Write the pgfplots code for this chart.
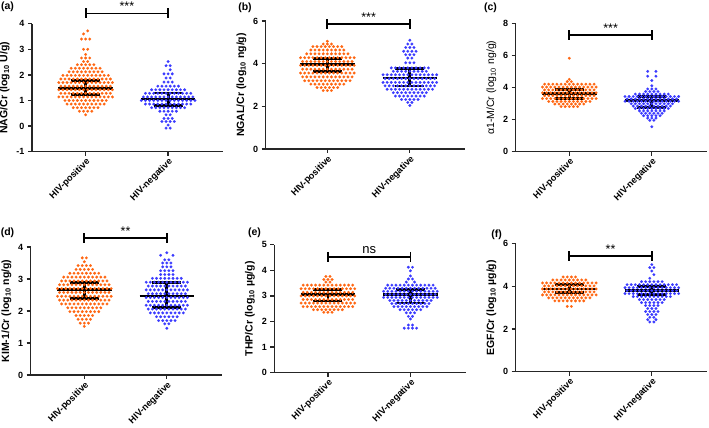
\documentclass[border=0pt]{standalone}
\usepackage{fontspec}
\setmainfont{Liberation Sans}
\usepackage{pgfplots}
\pgfplotsset{compat=1.18}
\definecolor{orng}{RGB}{255,102,17}
\definecolor{blu}{RGB}{58,58,255}
% categories sit at x=0 (HIV-positive) and x=40 (HIV-negative); one swarm step = 2 units
\pgfplotsset{
  swarm/.style={
    scale only axis, width=191.2pt, height=128pt,
    xmin=-26, xmax=66.7,
    axis lines=left, axis line style={-, line width=1.3pt, black!85},
    xtick={0,40}, xticklabels={HIV-positive,HIV-negative},
    tick align=outside, major tick length=4pt,
    tick style={line width=1.3pt, black!85},
    xticklabel style={rotate=45, anchor=north east, inner sep=1pt, font=\bfseries\fontsize{9.2}{10}\selectfont},
    yticklabel style={font=\bfseries\fontsize{9}{10}\selectfont},
    ylabel style={font=\bfseries\fontsize{10.5}{12}\selectfont},
    /pgf/number format/assume math mode=true,
    clip=false,
  },
  orpt/.style={only marks, color=orng, mark=*, mark size=1.4pt, mark options={solid, fill=orng, draw=orng, line width=0.1pt}},
  blpt/.style={only marks, color=blu, mark=*, mark size=1.4pt, mark options={solid, fill=blu, draw=blu, line width=0.1pt}},
  st/.style={black, line width=2.8pt, unbounded coords=jump, mark=none},
  br/.style={black, line width=1.8pt, mark=|, mark size=5pt, mark options={solid, line width=1.8pt}},
}
\newcommand{\sig}{\fontsize{12.5}{13}\selectfont}
\begin{document}
\begin{tikzpicture}
\useasboundingbox (0,0) rectangle (709pt,428pt);

% ---------------- (a) NAG
\begin{axis}[swarm, at={(32pt,276.3pt)}, anchor=south west, ymin=-1, ymax=4, ytick={-1,0,1,2,3,4},
  ylabel={NAG/Cr (log\textsubscript{10} U/g)}]
\addplot[orpt] coordinates {
(1,3.72)(-1,3.6)(-2,3.4)(0,3.4)(2,3.4)(-1,3)(1,3)(0,2.8)(-2,2.66)(0,2.66)(2,2.66)(-1,2.52)(1,2.52)
(-4,2.4)(-2,2.4)(0,2.4)(2,2.4)(4,2.4)
(-7,2.26)(-5,2.26)(-3,2.26)(-1,2.26)(1,2.26)(3,2.26)(5,2.26)(7,2.26)
(-8,2.12)(-6,2.12)(-4,2.12)(-2,2.12)(0,2.12)(2,2.12)(4,2.12)(6,2.12)(8,2.12)
(-11,1.98)(-9,1.98)(-7,1.98)(-5,1.98)(-3,1.98)(-1,1.98)(1,1.98)(3,1.98)(5,1.98)(7,1.98)(9,1.98)(11,1.98)
(-12,1.84)(-10,1.84)(-8,1.84)(-6,1.84)(-4,1.84)(-2,1.84)(0,1.84)(2,1.84)(4,1.84)(6,1.84)(8,1.84)(10,1.84)(12,1.84)
(-13,1.7)(-11,1.7)(-9,1.7)(-7,1.7)(-5,1.7)(-3,1.7)(-1,1.7)(1,1.7)(3,1.7)(5,1.7)(7,1.7)(9,1.7)(11,1.7)(13,1.7)
(-12,1.56)(-10,1.56)(-8,1.56)(-6,1.56)(-4,1.56)(-2,1.56)(0,1.56)(2,1.56)(4,1.56)(6,1.56)(8,1.56)(10,1.56)(12,1.56)
(-13,1.42)(-11,1.42)(-9,1.42)(-7,1.42)(-5,1.42)(-3,1.42)(-1,1.42)(1,1.42)(3,1.42)(5,1.42)(7,1.42)(9,1.42)(11,1.42)(13,1.42)
(-12,1.28)(-10,1.28)(-8,1.28)(-6,1.28)(-4,1.28)(-2,1.28)(0,1.28)(2,1.28)(4,1.28)(6,1.28)(8,1.28)(10,1.28)(12,1.28)
(-13,1.14)(-11,1.14)(-9,1.14)(-7,1.14)(-5,1.14)(-3,1.14)(-1,1.14)(1,1.14)(3,1.14)(5,1.14)(7,1.14)(9,1.14)(11,1.14)(13,1.14)
(-10,1)(-8,1)(-6,1)(-4,1)(-2,1)(0,1)(2,1)(4,1)(6,1)(8,1)(10,1)
(-9,0.86)(-7,0.86)(-5,0.86)(-3,0.86)(-1,0.86)(1,0.86)(3,0.86)(5,0.86)(7,0.86)(9,0.86)
(-6,0.72)(-4,0.72)(-2,0.72)(0,0.72)(2,0.72)(4,0.72)(6,0.72)
(-3,0.58)(-1,0.58)(1,0.58)(3,0.58)(0,0.44)};
\addplot[blpt] coordinates {
(40,2.52)(39,2.36)(41,2.36)(41,2.2)(38,2.04)(40,2.04)(42,2.04)(39,1.88)(41,1.88)(38,1.72)(40,1.72)(42,1.72)
(35,1.56)(37,1.56)(39,1.56)(41,1.56)(43,1.56)(45,1.56)
(32,1.42)(34,1.42)(36,1.42)(38,1.42)(40,1.42)(42,1.42)(44,1.42)(46,1.42)(48,1.42)
(29,1.28)(31,1.28)(33,1.28)(35,1.28)(37,1.28)(39,1.28)(41,1.28)(43,1.28)(45,1.28)(47,1.28)(49,1.28)(51,1.28)
(28,1.14)(30,1.14)(32,1.14)(34,1.14)(36,1.14)(38,1.14)(40,1.14)(42,1.14)(44,1.14)(46,1.14)(48,1.14)(50,1.14)(52,1.14)
(27,1)(29,1)(31,1)(33,1)(35,1)(37,1)(39,1)(41,1)(43,1)(45,1)(47,1)(49,1)(51,1)(53,1)
(29,0.86)(31,0.86)(33,0.86)(35,0.86)(37,0.86)(39,0.86)(41,0.86)(43,0.86)(45,0.86)(47,0.86)(49,0.86)(51,0.86)
(32,0.72)(34,0.72)(36,0.72)(38,0.72)(40,0.72)(42,0.72)(44,0.72)(46,0.72)(48,0.72)
(36,0.58)(38,0.58)(40,0.58)(42,0.58)(44,0.58)(39,0.44)(41,0.44)(38,0.3)(40,0.3)(42,0.3)
(37,0.18)(39,0.18)(41,0.18)(43,0.18)(40,0.04)(39,-0.08)(41,-0.08)};
\addplot[st] coordinates {(-13.2,1.46)(13.2,1.46)(0,nan)(-7,1.22)(7,1.22)(0,nan)(-7,1.78)(7,1.78)(0,nan)(0,1.22)(0,1.78)};
\addplot[st] coordinates {(26.8,1.06)(53.2,1.06)(40,nan)(33,0.81)(47,0.81)(40,nan)(33,1.29)(47,1.29)(40,nan)(40,0.81)(40,1.29)};
\addplot[br] coordinates {(0,4.4)(40,4.4)};
\node[anchor=base, font=\sig, yshift=2.5pt] at (axis cs:20,4.4) {***};
\end{axis}

% ---------------- (b) NGAL
\begin{axis}[swarm, at={(265.7pt,279pt)}, anchor=south west, xmin=-29.9, width=199.2pt,
  ymin=0, ymax=6, ytick={0,2,4,6}, ylabel={NGAL/Cr (log\textsubscript{10} ng/g)}]
\addplot[orpt] coordinates {
(0,5.05)(-2,4.92)(0,4.92)(2,4.92)
(-7,4.8)(-5,4.8)(-3,4.8)(-1,4.8)(1,4.8)(3,4.8)(5,4.8)(7,4.8)
(-8,4.64)(-6,4.64)(-4,4.64)(-2,4.64)(0,4.64)(2,4.64)(4,4.64)(6,4.64)(8,4.64)
(-10,4.46)(-8,4.46)(-6,4.46)(-4,4.46)(-2,4.46)(0,4.46)(2,4.46)(4,4.46)(6,4.46)(8,4.46)(10,4.46)
(-13,4.28)(-11,4.28)(-9,4.28)(-7,4.28)(-5,4.28)(-3,4.28)(-1,4.28)(1,4.28)(3,4.28)(5,4.28)(7,4.28)(9,4.28)(11,4.28)(13,4.28)
(-12,4.1)(-10,4.1)(-8,4.1)(-6,4.1)(-4,4.1)(-2,4.1)(0,4.1)(2,4.1)(4,4.1)(6,4.1)(8,4.1)(10,4.1)(12,4.1)
(-13,3.92)(-11,3.92)(-9,3.92)(-7,3.92)(-5,3.92)(-3,3.92)(-1,3.92)(1,3.92)(3,3.92)(5,3.92)(7,3.92)(9,3.92)(11,3.92)(13,3.92)
(-12,3.74)(-10,3.74)(-8,3.74)(-6,3.74)(-4,3.74)(-2,3.74)(0,3.74)(2,3.74)(4,3.74)(6,3.74)(8,3.74)(10,3.74)(12,3.74)
(-13,3.56)(-11,3.56)(-9,3.56)(-7,3.56)(-5,3.56)(-3,3.56)(-1,3.56)(1,3.56)(3,3.56)(5,3.56)(7,3.56)(9,3.56)(11,3.56)(13,3.56)
(-12,3.38)(-10,3.38)(-8,3.38)(-6,3.38)(-4,3.38)(-2,3.38)(0,3.38)(2,3.38)(4,3.38)(6,3.38)(8,3.38)(10,3.38)(12,3.38)
(-11,3.2)(-9,3.2)(-7,3.2)(-5,3.2)(-3,3.2)(-1,3.2)(1,3.2)(3,3.2)(5,3.2)(7,3.2)(9,3.2)(11,3.2)
(-8,3.04)(-6,3.04)(-4,3.04)(-2,3.04)(0,3.04)(2,3.04)(4,3.04)(6,3.04)(8,3.04)
(-5,2.88)(-3,2.88)(-1,2.88)(1,2.88)(3,2.88)(5,2.88)(-2,2.74)(0,2.74)(2,2.74)};
\addplot[blpt] coordinates {
(40,5.1)(39,4.92)(41,4.92)(38,4.76)(40,4.76)(42,4.76)(37,4.58)(39,4.58)(41,4.58)(43,4.58)
(38,4.42)(40,4.42)(42,4.42)(39,4.26)(41,4.26)(38,4.04)(40,4.04)(42,4.04)
(31,3.8)(33,3.8)(35,3.8)(37,3.8)(39,3.8)(41,3.8)(43,3.8)(45,3.8)(47,3.8)(49,3.8)
(32,3.64)(34,3.64)(36,3.64)(38,3.64)(40,3.64)(42,3.64)(44,3.64)(46,3.64)(48,3.64)
(27,3.48)(29,3.48)(31,3.48)(33,3.48)(35,3.48)(37,3.48)(39,3.48)(41,3.48)(43,3.48)(45,3.48)(47,3.48)(49,3.48)(51,3.48)(53,3.48)
(28,3.3)(30,3.3)(32,3.3)(34,3.3)(36,3.3)(38,3.3)(40,3.3)(42,3.3)(44,3.3)(46,3.3)(48,3.3)(50,3.3)(52,3.3)
(27,3.12)(29,3.12)(31,3.12)(33,3.12)(35,3.12)(37,3.12)(39,3.12)(41,3.12)(43,3.12)(45,3.12)(47,3.12)(49,3.12)(51,3.12)(53,3.12)
(28,2.96)(30,2.96)(32,2.96)(34,2.96)(36,2.96)(38,2.96)(40,2.96)(42,2.96)(44,2.96)(46,2.96)(48,2.96)(50,2.96)(52,2.96)
(29,2.8)(31,2.8)(33,2.8)(35,2.8)(37,2.8)(39,2.8)(41,2.8)(43,2.8)(45,2.8)(47,2.8)(49,2.8)(51,2.8)
(32,2.64)(34,2.64)(36,2.64)(38,2.64)(40,2.64)(42,2.64)(44,2.64)(46,2.64)(48,2.64)
(33,2.48)(35,2.48)(37,2.48)(39,2.48)(41,2.48)(43,2.48)(45,2.48)(47,2.48)
(36,2.32)(38,2.32)(40,2.32)(42,2.32)(44,2.32)(39,2.18)(41,2.18)(40,2.04)};
\addplot[st] coordinates {(-13.2,3.95)(13.2,3.95)(0,nan)(-7,3.63)(7,3.63)(0,nan)(-7,4.24)(7,4.24)(0,nan)(0,3.63)(0,4.24)};
\addplot[st] coordinates {(26.8,3.33)(53.2,3.33)(40,nan)(33,2.95)(47,2.95)(40,nan)(33,3.77)(47,3.77)(40,nan)(40,2.95)(40,3.77)};
\addplot[br] coordinates {(0,5.85)(40,5.85)};
\node[anchor=base, font=\sig, yshift=2.5pt] at (axis cs:20,5.85) {***};
\end{axis}

% ---------------- (c) alpha1-M
\begin{axis}[swarm, at={(515.7pt,276.3pt)}, anchor=south west, ymin=0, ymax=8, ytick={0,2,4,6,8},
  ylabel={α1-M/Cr (log\textsubscript{10} ng/g)}, ylabel style={font=\fontsize{10.5}{12}\selectfont}]
\addplot[orpt] coordinates {
(0,5.84)(0,4.52)(-1,4.38)(1,4.38)
(-12,4.22)(-10,4.22)(-8,4.22)(-6,4.22)(-4,4.22)(-2,4.22)(0,4.22)(2,4.22)(4,4.22)(6,4.22)(8,4.22)(10,4.22)(12,4.22)
(-13,4.04)(-11,4.04)(-9,4.04)(-7,4.04)(-5,4.04)(-3,4.04)(-1,4.04)(1,4.04)(3,4.04)(5,4.04)(7,4.04)(9,4.04)(11,4.04)(13,4.04)
(-12,3.86)(-10,3.86)(-8,3.86)(-6,3.86)(-4,3.86)(-2,3.86)(0,3.86)(2,3.86)(4,3.86)(6,3.86)(8,3.86)(10,3.86)(12,3.86)
(-13,3.68)(-11,3.68)(-9,3.68)(-7,3.68)(-5,3.68)(-3,3.68)(-1,3.68)(1,3.68)(3,3.68)(5,3.68)(7,3.68)(9,3.68)(11,3.68)(13,3.68)
(-12,3.5)(-10,3.5)(-8,3.5)(-6,3.5)(-4,3.5)(-2,3.5)(0,3.5)(2,3.5)(4,3.5)(6,3.5)(8,3.5)(10,3.5)(12,3.5)
(-13,3.32)(-11,3.32)(-9,3.32)(-7,3.32)(-5,3.32)(-3,3.32)(-1,3.32)(1,3.32)(3,3.32)(5,3.32)(7,3.32)(9,3.32)(11,3.32)(13,3.32)
(-10,3.14)(-8,3.14)(-6,3.14)(-4,3.14)(-2,3.14)(0,3.14)(2,3.14)(4,3.14)(6,3.14)(8,3.14)(10,3.14)
(-7,2.98)(-5,2.98)(-3,2.98)(-1,2.98)(1,2.98)(3,2.98)(5,2.98)(7,2.98)
(-4,2.82)(-2,2.82)(0,2.82)(2,2.82)(4,2.82)};
\addplot[blpt] coordinates {
(38,5.02)(42,5.02)(38,4.72)(42,4.72)(40,4.45)(40,4.12)(38,3.92)(40,3.92)(42,3.92)(37,3.76)(39,3.76)(41,3.76)(43,3.76)
(32,3.6)(34,3.6)(36,3.6)(38,3.6)(40,3.6)(42,3.6)(44,3.6)(46,3.6)(48,3.6)
(27,3.45)(29,3.45)(31,3.45)(33,3.45)(35,3.45)(37,3.45)(39,3.45)(41,3.45)(43,3.45)(45,3.45)(47,3.45)(49,3.45)(51,3.45)(53,3.45)
(28,3.3)(30,3.3)(32,3.3)(34,3.3)(36,3.3)(38,3.3)(40,3.3)(42,3.3)(44,3.3)(46,3.3)(48,3.3)(50,3.3)(52,3.3)
(27,3.15)(29,3.15)(31,3.15)(33,3.15)(35,3.15)(37,3.15)(39,3.15)(41,3.15)(43,3.15)(45,3.15)(47,3.15)(49,3.15)(51,3.15)(53,3.15)
(30,3)(32,3)(34,3)(36,3)(38,3)(40,3)(42,3)(44,3)(46,3)(48,3)(50,3)
(31,2.85)(33,2.85)(35,2.85)(37,2.85)(39,2.85)(41,2.85)(43,2.85)(45,2.85)(47,2.85)(49,2.85)
(32,2.7)(34,2.7)(36,2.7)(38,2.7)(40,2.7)(42,2.7)(44,2.7)(46,2.7)(48,2.7)
(34,2.55)(36,2.55)(38,2.55)(40,2.55)(42,2.55)(44,2.55)(46,2.55)
(35,2.4)(37,2.4)(39,2.4)(41,2.4)(43,2.4)(45,2.4)
(36,2.25)(38,2.25)(40,2.25)(42,2.25)(44,2.25)(38,2.1)(40,2.1)(42,2.1)(39,1.96)(41,1.96)(40,1.56)};
\addplot[st] coordinates {(-13.2,3.62)(13.2,3.62)(0,nan)(-7,3.35)(7,3.35)(0,nan)(-7,3.88)(7,3.88)(0,nan)(0,3.35)(0,3.88)};
\addplot[st] coordinates {(26.8,3.18)(53.2,3.18)(40,nan)(33,2.77)(47,2.77)(40,nan)(33,3.45)(47,3.45)(40,nan)(40,2.77)(40,3.45)};
\addplot[br] coordinates {(0,7.27)(40,7.27)};
\node[anchor=base, font=\sig, yshift=2.5pt] at (axis cs:20,7.27) {***};
\end{axis}

% ---------------- (d) KIM-1
\begin{axis}[swarm, at={(30.7pt,53pt)}, anchor=south west, ymin=0, ymax=4, ytick={0,1,2,3,4},
  ylabel={KIM-1/Cr (log\textsubscript{10} ng/g)}]
\addplot[orpt] coordinates {
(-1,3.66)(1,3.66)(0,3.54)(-3,3.42)(-1,3.42)(1,3.42)(3,3.42)(-4,3.3)(-2,3.3)(0,3.3)(2,3.3)(4,3.3)
(-7,3.18)(-5,3.18)(-3,3.18)(-1,3.18)(1,3.18)(3,3.18)(5,3.18)(7,3.18)
(-10,3.06)(-8,3.06)(-6,3.06)(-4,3.06)(-2,3.06)(0,3.06)(2,3.06)(4,3.06)(6,3.06)(8,3.06)(10,3.06)
(-11,2.94)(-9,2.94)(-7,2.94)(-5,2.94)(-3,2.94)(-1,2.94)(1,2.94)(3,2.94)(5,2.94)(7,2.94)(9,2.94)(11,2.94)
(-12,2.82)(-10,2.82)(-8,2.82)(-6,2.82)(-4,2.82)(-2,2.82)(0,2.82)(2,2.82)(4,2.82)(6,2.82)(8,2.82)(10,2.82)(12,2.82)
(-13,2.7)(-11,2.7)(-9,2.7)(-7,2.7)(-5,2.7)(-3,2.7)(-1,2.7)(1,2.7)(3,2.7)(5,2.7)(7,2.7)(9,2.7)(11,2.7)(13,2.7)
(-12,2.58)(-10,2.58)(-8,2.58)(-6,2.58)(-4,2.58)(-2,2.58)(0,2.58)(2,2.58)(4,2.58)(6,2.58)(8,2.58)(10,2.58)(12,2.58)
(-13,2.46)(-11,2.46)(-9,2.46)(-7,2.46)(-5,2.46)(-3,2.46)(-1,2.46)(1,2.46)(3,2.46)(5,2.46)(7,2.46)(9,2.46)(11,2.46)(13,2.46)
(-12,2.34)(-10,2.34)(-8,2.34)(-6,2.34)(-4,2.34)(-2,2.34)(0,2.34)(2,2.34)(4,2.34)(6,2.34)(8,2.34)(10,2.34)(12,2.34)
(-11,2.22)(-9,2.22)(-7,2.22)(-5,2.22)(-3,2.22)(-1,2.22)(1,2.22)(3,2.22)(5,2.22)(7,2.22)(9,2.22)(11,2.22)
(-8,2.1)(-6,2.1)(-4,2.1)(-2,2.1)(0,2.1)(2,2.1)(4,2.1)(6,2.1)(8,2.1)
(-7,1.98)(-5,1.98)(-3,1.98)(-1,1.98)(1,1.98)(3,1.98)(5,1.98)(7,1.98)
(-4,1.86)(-2,1.86)(0,1.86)(2,1.86)(4,1.86)(-3,1.74)(-1,1.74)(1,1.74)(3,1.74)(-2,1.62)(0,1.62)(2,1.62)(0,1.52)};
\addplot[blpt] coordinates {
(40,3.82)(37,3.74)(43,3.74)(39,3.6)(41,3.6)(38,3.5)(40,3.5)(42,3.5)(38,3.38)(40,3.38)(42,3.38)
(37,3.26)(39,3.26)(41,3.26)(43,3.26)(37,3.14)(39,3.14)(41,3.14)(43,3.14)
(33,3.02)(35,3.02)(37,3.02)(39,3.02)(41,3.02)(43,3.02)(45,3.02)(47,3.02)
(30,2.9)(32,2.9)(34,2.9)(36,2.9)(38,2.9)(40,2.9)(42,2.9)(44,2.9)(46,2.9)(48,2.9)(50,2.9)
(31,2.78)(33,2.78)(35,2.78)(37,2.78)(39,2.78)(41,2.78)(43,2.78)(45,2.78)(47,2.78)(49,2.78)
(30,2.66)(32,2.66)(34,2.66)(36,2.66)(38,2.66)(40,2.66)(42,2.66)(44,2.66)(46,2.66)(48,2.66)(50,2.66)
(31,2.54)(33,2.54)(35,2.54)(37,2.54)(39,2.54)(41,2.54)(43,2.54)(45,2.54)(47,2.54)(49,2.54)
(30,2.42)(32,2.42)(34,2.42)(36,2.42)(38,2.42)(40,2.42)(42,2.42)(44,2.42)(46,2.42)(48,2.42)(50,2.42)
(31,2.3)(33,2.3)(35,2.3)(37,2.3)(39,2.3)(41,2.3)(43,2.3)(45,2.3)(47,2.3)(49,2.3)
(30,2.18)(32,2.18)(34,2.18)(36,2.18)(38,2.18)(40,2.18)(42,2.18)(44,2.18)(46,2.18)(48,2.18)(50,2.18)
(31,2.06)(33,2.06)(35,2.06)(37,2.06)(39,2.06)(41,2.06)(43,2.06)(45,2.06)(47,2.06)(49,2.06)
(32,1.94)(34,1.94)(36,1.94)(38,1.94)(40,1.94)(42,1.94)(44,1.94)(46,1.94)(48,1.94)
(35,1.82)(37,1.82)(39,1.82)(41,1.82)(43,1.82)(45,1.82)(36,1.7)(38,1.7)(40,1.7)(42,1.7)(44,1.7)
(39,1.6)(41,1.6)(40,1.46)};
\addplot[st] coordinates {(-13.2,2.68)(13.2,2.68)(0,nan)(-7,2.38)(7,2.38)(0,nan)(-7,2.88)(7,2.88)(0,nan)(0,2.38)(0,2.88)};
\addplot[st] coordinates {(26.8,2.47)(53.2,2.47)(40,nan)(33,2.12)(47,2.12)(40,nan)(33,2.89)(47,2.89)(40,nan)(40,2.12)(40,2.89)};
\addplot[br] coordinates {(0,4.28)(40,4.28)};
\node[anchor=base, font=\sig, yshift=2.5pt] at (axis cs:20,4.28) {**};
\end{axis}

% ---------------- (e) THP
\begin{axis}[swarm, at={(274.3pt,55.3pt)}, anchor=south west, ymin=0, ymax=5, ytick={0,1,2,3,4,5},
  ylabel={THP/Cr (log\textsubscript{10} µg/g)}]
\addplot[orpt] coordinates {
(-1,3.76)(1,3.76)(-2,3.64)(0,3.64)(2,3.64)(-1,3.54)(1,3.54)
(-12,3.42)(-10,3.42)(-8,3.42)(-6,3.42)(-4,3.42)(-2,3.42)(0,3.42)(2,3.42)(4,3.42)(6,3.42)(8,3.42)(10,3.42)(12,3.42)
(-13,3.28)(-11,3.28)(-9,3.28)(-7,3.28)(-5,3.28)(-3,3.28)(-1,3.28)(1,3.28)(3,3.28)(5,3.28)(7,3.28)(9,3.28)(11,3.28)(13,3.28)
(-12,3.14)(-10,3.14)(-8,3.14)(-6,3.14)(-4,3.14)(-2,3.14)(0,3.14)(2,3.14)(4,3.14)(6,3.14)(8,3.14)(10,3.14)(12,3.14)
(-13,3)(-11,3)(-9,3)(-7,3)(-5,3)(-3,3)(-1,3)(1,3)(3,3)(5,3)(7,3)(9,3)(11,3)(13,3)
(-12,2.86)(-10,2.86)(-8,2.86)(-6,2.86)(-4,2.86)(-2,2.86)(0,2.86)(2,2.86)(4,2.86)(6,2.86)(8,2.86)(10,2.86)(12,2.86)
(-13,2.72)(-11,2.72)(-9,2.72)(-7,2.72)(-5,2.72)(-3,2.72)(-1,2.72)(1,2.72)(3,2.72)(5,2.72)(7,2.72)(9,2.72)(11,2.72)(13,2.72)
(-12,2.58)(-10,2.58)(-8,2.58)(-6,2.58)(-4,2.58)(-2,2.58)(0,2.58)(2,2.58)(4,2.58)(6,2.58)(8,2.58)(10,2.58)(12,2.58)
(-7,2.46)(-5,2.46)(-3,2.46)(-1,2.46)(1,2.46)(3,2.46)(5,2.46)(7,2.46)(-2,2.36)(0,2.36)(2,2.36)};
\addplot[blpt] coordinates {
(39,4.12)(41,4.12)(40,3.98)(40,3.78)(39,3.66)(41,3.66)(38,3.54)(42,3.54)
(29,3.42)(31,3.42)(33,3.42)(35,3.42)(37,3.42)(39,3.42)(41,3.42)(43,3.42)(45,3.42)(47,3.42)(49,3.42)(51,3.42)
(28,3.3)(30,3.3)(32,3.3)(34,3.3)(36,3.3)(38,3.3)(40,3.3)(42,3.3)(44,3.3)(46,3.3)(48,3.3)(50,3.3)(52,3.3)
(27,3.18)(29,3.18)(31,3.18)(33,3.18)(35,3.18)(37,3.18)(39,3.18)(41,3.18)(43,3.18)(45,3.18)(47,3.18)(49,3.18)(51,3.18)(53,3.18)
(28,3.06)(30,3.06)(32,3.06)(34,3.06)(36,3.06)(38,3.06)(40,3.06)(42,3.06)(44,3.06)(46,3.06)(48,3.06)(50,3.06)(52,3.06)
(27,2.94)(29,2.94)(31,2.94)(33,2.94)(35,2.94)(37,2.94)(39,2.94)(41,2.94)(43,2.94)(45,2.94)(47,2.94)(49,2.94)(51,2.94)(53,2.94)
(30,2.82)(32,2.82)(34,2.82)(36,2.82)(38,2.82)(40,2.82)(42,2.82)(44,2.82)(46,2.82)(48,2.82)(50,2.82)
(31,2.7)(33,2.7)(35,2.7)(37,2.7)(39,2.7)(41,2.7)(43,2.7)(45,2.7)(47,2.7)(49,2.7)
(32,2.58)(34,2.58)(36,2.58)(38,2.58)(40,2.58)(42,2.58)(44,2.58)(46,2.58)(48,2.58)
(35,2.46)(37,2.46)(39,2.46)(41,2.46)(43,2.46)(45,2.46)(38,2.34)(40,2.34)(42,2.34)(39,2.2)(41,2.2)(40,2.1)
(39,1.86)(41,1.86)(37,1.74)(39,1.74)(41,1.74)(43,1.74)};
\addplot[st] coordinates {(-13.2,3.05)(13.2,3.05)(0,nan)(-7,2.8)(7,2.8)(0,nan)(-7,3.25)(7,3.25)(0,nan)(0,2.8)(0,3.25)};
\addplot[st] coordinates {(26.8,3.07)(53.2,3.07)(40,nan)(33,2.72)(47,2.72)(40,nan)(33,3.24)(47,3.24)(40,nan)(40,2.72)(40,3.24)};
\addplot[br] coordinates {(0,4.52)(40,4.52)};
\node[anchor=base, font=\fontsize{13}{14}\selectfont, yshift=3.5pt] at (axis cs:20,4.52) {ns};
\end{axis}

% ---------------- (f) EGF
\begin{axis}[swarm, at={(515.7pt,56.3pt)}, anchor=south west, ymin=0, ymax=6, ytick={0,2,4,6},
  ylabel={EGF/Cr (log\textsubscript{10} µg/g)}]
\addplot[orpt] coordinates {
(-3,4.44)(-1,4.44)(1,4.44)(3,4.44)
(-8,4.3)(-6,4.3)(-4,4.3)(-2,4.3)(0,4.3)(2,4.3)(4,4.3)(6,4.3)(8,4.3)
(-13,4.16)(-11,4.16)(-9,4.16)(-7,4.16)(-5,4.16)(-3,4.16)(-1,4.16)(1,4.16)(3,4.16)(5,4.16)(7,4.16)(9,4.16)(11,4.16)(13,4.16)
(-12,4.02)(-10,4.02)(-8,4.02)(-6,4.02)(-4,4.02)(-2,4.02)(0,4.02)(2,4.02)(4,4.02)(6,4.02)(8,4.02)(10,4.02)(12,4.02)
(-13,3.88)(-11,3.88)(-9,3.88)(-7,3.88)(-5,3.88)(-3,3.88)(-1,3.88)(1,3.88)(3,3.88)(5,3.88)(7,3.88)(9,3.88)(11,3.88)(13,3.88)
(-12,3.74)(-10,3.74)(-8,3.74)(-6,3.74)(-4,3.74)(-2,3.74)(0,3.74)(2,3.74)(4,3.74)(6,3.74)(8,3.74)(10,3.74)(12,3.74)
(-13,3.6)(-11,3.6)(-9,3.6)(-7,3.6)(-5,3.6)(-3,3.6)(-1,3.6)(1,3.6)(3,3.6)(5,3.6)(7,3.6)(9,3.6)(11,3.6)(13,3.6)
(-10,3.46)(-8,3.46)(-6,3.46)(-4,3.46)(-2,3.46)(0,3.46)(2,3.46)(4,3.46)(6,3.46)(8,3.46)(10,3.46)
(-7,3.32)(-5,3.32)(-3,3.32)(-1,3.32)(1,3.32)(3,3.32)(5,3.32)(7,3.32)(-1,3.06)(1,3.06)};
\addplot[blpt] coordinates {
(40,5.02)(39,4.88)(41,4.88)(40,4.72)(41,4.55)(39,4.38)
(35,4.22)(37,4.22)(39,4.22)(41,4.22)(43,4.22)(45,4.22)
(28,4.08)(30,4.08)(32,4.08)(34,4.08)(36,4.08)(38,4.08)(40,4.08)(42,4.08)(44,4.08)(46,4.08)(48,4.08)(50,4.08)(52,4.08)
(27,3.94)(29,3.94)(31,3.94)(33,3.94)(35,3.94)(37,3.94)(39,3.94)(41,3.94)(43,3.94)(45,3.94)(47,3.94)(49,3.94)(51,3.94)(53,3.94)
(28,3.8)(30,3.8)(32,3.8)(34,3.8)(36,3.8)(38,3.8)(40,3.8)(42,3.8)(44,3.8)(46,3.8)(48,3.8)(50,3.8)(52,3.8)
(27,3.66)(29,3.66)(31,3.66)(33,3.66)(35,3.66)(37,3.66)(39,3.66)(41,3.66)(43,3.66)(45,3.66)(47,3.66)(49,3.66)(51,3.66)(53,3.66)
(31,3.52)(33,3.52)(35,3.52)(37,3.52)(39,3.52)(41,3.52)(43,3.52)(45,3.52)(47,3.52)(49,3.52)
(34,3.38)(36,3.38)(38,3.38)(40,3.38)(42,3.38)(44,3.38)(46,3.38)
(35,3.24)(37,3.24)(39,3.24)(41,3.24)(43,3.24)(45,3.24)(37,3.1)(39,3.1)(41,3.1)(43,3.1)
(38,2.96)(40,2.96)(42,2.96)(37,2.82)(39,2.82)(41,2.82)(43,2.82)(38,2.68)(40,2.68)(42,2.68)
(39,2.55)(41,2.55)(38,2.44)(42,2.44)(39,2.33)(41,2.33)};
\addplot[st] coordinates {(-13.2,3.88)(13.2,3.88)(0,nan)(-7,3.72)(7,3.72)(0,nan)(-7,4.07)(7,4.07)(0,nan)(0,3.72)(0,4.07)};
\addplot[st] coordinates {(26.8,3.8)(53.2,3.8)(40,nan)(33,3.6)(47,3.6)(40,nan)(33,4)(47,4)(40,nan)(40,3.6)(40,4)};
\addplot[br] coordinates {(0,5.42)(40,5.42)};
\node[anchor=base, font=\sig, yshift=2.5pt] at (axis cs:20,5.42) {**};
\end{axis}

% panel letters
\begin{scope}[every node/.style={font=\bfseries\fontsize{10.5}{12}\selectfont}]
\node at (7.5pt,421pt) {(a)};
\node at (245pt,420pt) {(b)};
\node at (490.5pt,420.5pt) {(c)};
\node at (7.5pt,195.5pt) {(d)};
\node at (254.5pt,195.5pt) {(e)};
\node at (496.5pt,193.5pt) {(f)};
\end{scope}
\end{tikzpicture}
\end{document}
